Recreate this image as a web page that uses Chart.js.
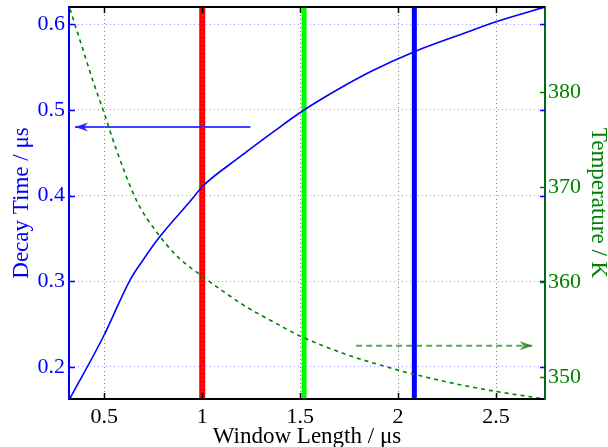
<!DOCTYPE html>
<html>
<head>
<meta charset="utf-8">
<script src="https://cdn.jsdelivr.net/npm/chart.js@4.4.0/dist/chart.umd.min.js"></script>
<style>
    html, body { margin: 0; padding: 0; background: #fff; }
    #wrap { width: 608px; height: 447px; position: relative; }
</style>
</head>
<body>
<div id="wrap"><canvas id="decayChart"></canvas></div>
<script>
// Decay time (left axis) against window length
const decayX = [0.325, 0.495, 0.631, 0.699, 0.784, 0.945, 0.999, 1.192, 1.361, 1.514, 1.701, 1.871, 2.083, 2.330, 2.500, 2.746];
const decayY = [0.163, 0.235, 0.301, 0.325, 0.352, 0.395, 0.410, 0.445, 0.474, 0.499, 0.525, 0.546, 0.568, 0.589, 0.603, 0.620];

// Temperature (right axis) against window length
const tempX = [0.325, 0.393, 0.444, 0.495, 0.563, 0.665, 0.767, 0.869, 0.996, 1.124, 1.226, 1.370, 1.514, 1.735, 1.990, 2.083, 2.293, 2.500, 2.750];
const tempY = [388.8, 384.4, 381.1, 378.1, 373.9, 368.6, 365.3, 362.8, 360.7, 358.8, 357.4, 355.75, 354.2, 352.4, 350.8, 350.3, 349.3, 348.5, 347.7];

// chosen window lengths (vertical bars)
const markerX = [1.0, 1.52, 2.083];

// annotation arrows: [tail, tip]
const decayArrowX = [1.246, 0.351];
const decayArrowY = [0.48, 0.48];
const tempArrowX = [1.786, 2.687];
const tempArrowY = [353.3, 353.3];

// axes
const xRange = [0.32, 2.75];
const decayRange = [0.1623, 0.6202];
const tempRange = [347.7, 389.0];
const xTicks = [0.5, 1, 1.5, 2, 2.5];
const decayTicks = [0.2, 0.3, 0.4, 0.5, 0.6];
const tempTicks = [350, 360, 370, 380];

const BLUE = '#0000ff';
const GREEN = '#008000';
const SERIF = '"Liberation Serif", "Times New Roman", serif';
const markerColors = ['#ff0000', '#00ff00', '#0000ff'];
const markerWidths = [6, 5, 5];

function pairs(xs, ys) {
    return xs.map((x, i) => ({x: x, y: ys[i]}));
}

function fmt(v) {
    return String(Math.round(v * 100) / 100);
}

function fixTicks(list) {
    return function(scale) {
        scale.ticks = list.map(v => ({value: v}));
    };
}

const datasets = [
    {
        label: 'decay', data: pairs(decayX, decayY), yAxisID: 'y',
        borderColor: BLUE, borderWidth: 1.6, pointRadius: 0,
        cubicInterpolationMode: 'monotone', order: 1
    },
    {
        label: 'temperature', data: pairs(tempX, tempY), yAxisID: 'y2',
        borderColor: GREEN, borderWidth: 1.6, borderDash: [4, 4], pointRadius: 0,
        cubicInterpolationMode: 'monotone', order: 1
    },
    {
        label: 'decayArrow', data: pairs(decayArrowX, decayArrowY), yAxisID: 'y',
        borderColor: 'rgba(30,30,255,0.85)', borderWidth: 2, pointRadius: 0, order: 2
    },
    {
        label: 'tempArrow', data: pairs(tempArrowX, tempArrowY), yAxisID: 'y2',
        borderColor: 'rgba(20,130,20,0.7)', borderWidth: 2, borderDash: [6, 4], pointRadius: 0, order: 2
    }
];

markerX.forEach((m, i) => {
    datasets.push({
        label: 'marker' + i,
        data: [{x: m, y: decayRange[0]}, {x: m, y: decayRange[1]}],
        yAxisID: 'y', borderColor: markerColors[i], borderWidth: markerWidths[i],
        pointRadius: 0, borderCapStyle: 'butt', order: 3
    });
});

function drawHead(ctx, tip, from, color, len, half) {
    const dx = tip.x - from.x, dy = tip.y - from.y;
    const d = Math.hypot(dx, dy);
    const ux = dx / d, uy = dy / d;
    const bx = tip.x - ux * len, by = tip.y - uy * len;
    const nx = tip.x - ux * len * 0.7, ny = tip.y - uy * len * 0.7;
    ctx.beginPath();
    ctx.moveTo(tip.x, tip.y);
    ctx.lineTo(bx - uy * half, by + ux * half);
    ctx.lineTo(nx, ny);
    ctx.lineTo(bx + uy * half, by - ux * half);
    ctx.closePath();
    ctx.fillStyle = color;
    ctx.fill();
}

// top edge, inward ticks and arrow heads
const framePlugin = {
    id: 'frame',
    afterDraw(chart) {
        const {ctx, chartArea: a, scales} = chart;
        ctx.save();
        ctx.strokeStyle = '#000';
        ctx.lineWidth = 2;
        ctx.beginPath();
        ctx.moveTo(a.left, a.top);
        ctx.lineTo(a.right, a.top);
        ctx.stroke();

        ctx.lineWidth = 1.5;
        ctx.strokeStyle = '#000';
        scales.x.ticks.forEach(t => {
            const px = Math.round(scales.x.getPixelForValue(t.value)) + 0.5;
            ctx.beginPath();
            ctx.moveTo(px, a.bottom); ctx.lineTo(px, a.bottom - 6);
            ctx.moveTo(px, a.top); ctx.lineTo(px, a.top + 6);
            ctx.stroke();
        });
        ctx.strokeStyle = BLUE;
        scales.y.ticks.forEach(t => {
            const py = Math.round(scales.y.getPixelForValue(t.value)) + 0.5;
            ctx.beginPath();
            ctx.moveTo(a.left, py); ctx.lineTo(a.left + 6, py);
            ctx.moveTo(a.right, py); ctx.lineTo(a.right - 5, py);
            ctx.stroke();
        });
        ctx.strokeStyle = GREEN;
        scales.y2.ticks.forEach(t => {
            const py = Math.round(scales.y2.getPixelForValue(t.value)) + 0.5;
            ctx.beginPath();
            ctx.moveTo(a.right, py); ctx.lineTo(a.right - 5, py);
            ctx.stroke();
        });

        chart.data.datasets.forEach((ds, i) => {
            if (ds.label !== 'decayArrow' && ds.label !== 'tempArrow') return;
            const pts = chart.getDatasetMeta(i).data;
            const color = ds.label === 'decayArrow' ? 'rgba(30,30,255,0.9)' : 'rgba(20,130,20,0.8)';
            drawHead(ctx, pts[pts.length - 1], pts[pts.length - 2], color, 13, 4.5);
        });
        ctx.restore();
    }
};

new Chart(document.getElementById('decayChart'), {
    type: 'line',
    data: {datasets: datasets},
    options: {
        responsive: true,
        maintainAspectRatio: false,
        animation: false,
        layout: {padding: {top: 7, left: 0, right: 0, bottom: 0}},
        plugins: {legend: {display: false}, tooltip: {enabled: false}},
        scales: {
            x: {
                type: 'linear', position: 'bottom', min: xRange[0], max: xRange[1],
                afterBuildTicks: fixTicks(xTicks),
                afterFit: s => { s.height = 48; s.paddingLeft = 0; s.paddingRight = 0; },
                ticks: {color: '#000', font: {family: SERIF, size: 22}, padding: 5, callback: fmt, maxRotation: 0, autoSkip: false},
                grid: {color: '#808080', lineWidth: 1, drawTicks: false, z: 1},
                border: {color: '#000', width: 2, dash: [1, 3], z: 1},
                title: {display: true, text: 'Window Length / μs', color: '#000', font: {family: SERIF, size: 23}, padding: {top: 0, bottom: -4}}
            },
            y: {
                type: 'linear', position: 'left', min: decayRange[0], max: decayRange[1],
                afterBuildTicks: fixTicks(decayTicks),
                afterFit: s => { s.width = 69; s.paddingTop = 0; s.paddingBottom = 0; },
                ticks: {color: BLUE, font: {family: SERIF, size: 22}, padding: 4, callback: fmt, autoSkip: false},
                grid: {color: '#a0a0ff', lineWidth: 1, drawTicks: false},
                border: {color: BLUE, width: 2, dash: [1, 3], z: 1},
                title: {display: true, text: 'Decay Time / μs', color: BLUE, font: {family: SERIF, size: 23}, padding: {top: 8, bottom: 0}}
            },
            y2: {
                type: 'linear', position: 'right', min: tempRange[0], max: tempRange[1],
                afterBuildTicks: fixTicks(tempTicks),
                afterFit: s => { s.width = 63; s.paddingTop = 0; s.paddingBottom = 0; },
                ticks: {color: GREEN, font: {family: SERIF, size: 22}, padding: 3, callback: fmt, autoSkip: false},
                grid: {display: false, drawTicks: false},
                border: {color: '#006a1a', width: 2, z: 1},
                title: {display: true, text: 'Temperature / K', color: GREEN, font: {family: SERIF, size: 23}, padding: {top: -4, bottom: 0}}
            }
        }
    },
    plugins: [framePlugin]
});
</script>
</body>
</html>
